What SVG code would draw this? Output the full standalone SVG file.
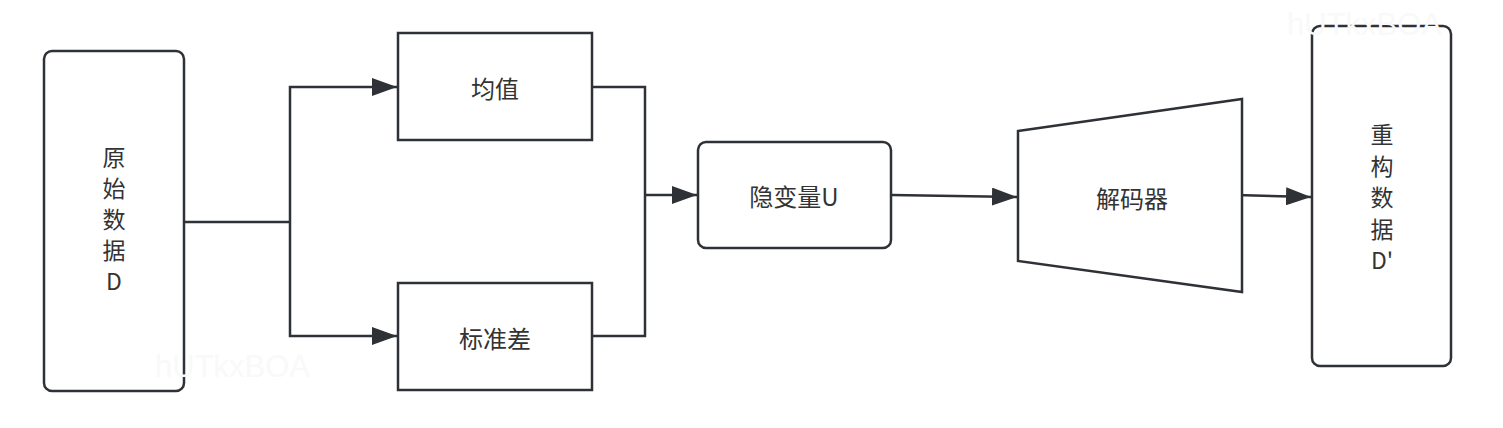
<svg xmlns="http://www.w3.org/2000/svg" width="1503" height="428" viewBox="0 0 1503 428">
<style>
.box{fill:#ffffff;stroke:#2e3135;stroke-width:2.5}
.ln{fill:none;stroke:#2e3135;stroke-width:2.5}
.t{font-family:"Noto Sans CJK SC","Noto Sans",sans-serif;font-size:24px;fill:#333333;text-anchor:middle;dominant-baseline:central}
.v{font-family:"Noto Sans CJK SC","Noto Sans",sans-serif;font-size:23px;fill:#333333;text-anchor:middle}
.wm{font-family:"Liberation Sans",sans-serif;font-size:31px;fill:#f9f9f9}
</style>
<defs>
<marker id="arr" markerUnits="userSpaceOnUse" markerWidth="26" markerHeight="18" refX="25" refY="9" orient="auto">
<path d="M0,0 L25,9 L0,18 Z" fill="#2e3135"/>
</marker>
</defs>
<rect width="1503" height="428" fill="#ffffff"/>
<g id="connectors">
<polyline class="ln" points="184,222 290,222"/>
<polyline class="ln" points="290,222 290,87 397,87" marker-end="url(#arr)"/>
<polyline class="ln" points="290,222 290,336 397,336" marker-end="url(#arr)"/>
<polyline class="ln" points="593,87 645,87 645,336 593,336"/>
<polyline class="ln" points="645,195 697,195" marker-end="url(#arr)"/>
<polyline class="ln" points="892,195 1017,197" marker-end="url(#arr)"/>
<polyline class="ln" points="1236,195 1311,197" marker-end="url(#arr)"/>
</g>
<g id="node-D">
<rect class="box" x="44" y="51" width="140" height="340" rx="8"/>
<text class="v" x="114" y="166"><tspan x="114">原</tspan><tspan x="114" dy="31">始</tspan><tspan x="114" dy="31">数</tspan><tspan x="114" dy="31">据</tspan><tspan x="114" dy="31">D</tspan></text>
</g>
<g id="node-mean">
<rect class="box" x="398" y="33" width="194" height="107"/>
<text class="t" x="495" y="87">均值</text>
</g>
<g id="node-std">
<rect class="box" x="398" y="283" width="194" height="107"/>
<text class="t" x="495" y="337">标准差</text>
</g>
<g id="node-U">
<rect class="box" x="698" y="142" width="193" height="106" rx="8"/>
<text class="t" x="794" y="195">隐变量U</text>
</g>
<g id="node-decoder">
<polygon class="box" points="1018,131 1242,99 1242,292 1018,261"/>
<text class="t" x="1132" y="197">解码器</text>
</g>
<g id="node-Dp">
<rect class="box" x="1312" y="26" width="139" height="340" rx="8"/>
<text class="v" x="1382" y="143"><tspan x="1382">重</tspan><tspan x="1382" dy="31.5">构</tspan><tspan x="1382" dy="31.5">数</tspan><tspan x="1382" dy="31.5">据</tspan><tspan x="1382" dy="31.5">D'</tspan></text>
</g>
<text class="wm" x="155" y="377">hUTkxBOA</text>
<text class="wm" x="1287" y="35">hUTkxBOA</text>
</svg>
